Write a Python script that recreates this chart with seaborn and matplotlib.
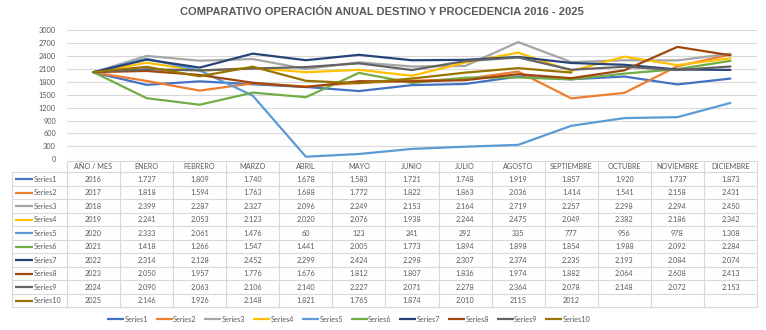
import numpy as np
import pandas as pd
import matplotlib
matplotlib.use("Agg")
import matplotlib.pyplot as plt
import seaborn as sns

# ---------------- data ----------------
categories = ["AÑO / MES", "ENERO", "FEBRERO", "MARZO", "ABRIL", "MAYO", "JUNIO",
              "JULIO", "AGOSTO", "SEPTIEMBRE", "OCTUBRE", "NOVIEMBRE", "DICIEMBRE"]
series_names = [f"Series{i}" for i in range(1, 11)]

series1 = [2016, 1727, 1809, 1740, 1678, 1583, 1721, 1748, 1919, 1857, 1920, 1737, 1873]
series2 = [2017, 1818, 1594, 1763, 1688, 1772, 1822, 1863, 2036, 1414, 1541, 2158, 2431]
series3 = [2018, 2399, 2287, 2327, 2096, 2249, 2153, 2164, 2719, 2257, 2298, 2294, 2450]
series4 = [2019, 2241, 2053, 2123, 2020, 2076, 1938, 2244, 2475, 2049, 2382, 2186, 2342]
series5 = [2020, 2333, 2061, 1476, 60, 123, 241, 292, 335, 777, 956, 978, 1308]
series6 = [2021, 1418, 1266, 1547, 1441, 2005, 1773, 1894, 1898, 1854, 1988, 2092, 2284]
series7 = [2022, 2314, 2128, 2452, 2299, 2424, 2298, 2307, 2374, 2235, 2193, 2084, 2074]
series8 = [2023, 2050, 1957, 1776, 1676, 1812, 1807, 1836, 1974, 1882, 2064, 2608, 2413]
series9 = [2024, 2090, 2063, 2106, 2140, 2227, 2071, 2278, 2364, 2078, 2148, 2072, 2153]
series10 = [2025, 2146, 1926, 2148, 1821, 1765, 1874, 2010, 2115, 2012, np.nan, np.nan, np.nan]
series_values = [series1, series2, series3, series4, series5,
                 series6, series7, series8, series9, series10]

# cells the source table shows without thousands separator (series index, column index)
plain_cells = {(9, 8), (9, 9)}

y_ticks = list(range(0, 3001, 300))
title = "COMPARATIVO OPERACIÓN ANUAL DESTINO Y PROCEDENCIA 2016 - 2025"

colors = ["#4472C4", "#ED7D31", "#A5A5A5", "#FFC000", "#5B9BD5",
          "#70AD47", "#264478", "#9E480E", "#636363", "#997300"]

# ---------------- style ----------------
sns.set_theme(style="white")
plt.rcParams['font.family'] = ['Lato', 'DejaVu Sans']
TXT = "#595959"
GRID = "#D9D9D9"

W, H = 766, 330
fig = plt.figure(figsize=(W / 100, H / 100), dpi=100)
fig.patch.set_facecolor("white")

x0, x1 = 67.0, 757.0
ytop, ybot = 30.0, 159.3
ax = fig.add_axes([x0 / W, 1 - ybot / H, (x1 - x0) / W, (ybot - ytop) / H])

rows = []
for name, vals in zip(series_names, series_values):
    for i, v in enumerate(vals):
        rows.append({"series": name, "pos": i, "value": v})
df = pd.DataFrame(rows).dropna()

sns.lineplot(data=df, x="pos", y="value", hue="series", hue_order=series_names,
             palette=colors, linewidth=1.6, ax=ax, legend=False, sort=False,
             solid_joinstyle="round", solid_capstyle="round")

ax.set_xlim(-0.5, len(categories) - 0.5)
ax.set_ylim(0, 3000)
ax.set_yticks(y_ticks)
ax.set_yticklabels([str(t) for t in y_ticks], fontsize=5.3, color=TXT)
ax.tick_params(axis="y", length=0, pad=8)
ax.set_xticks([])
ax.set_xlabel("")
ax.set_ylabel("")
for s in ax.spines.values():
    s.set_visible(False)
ax.yaxis.grid(True, color=GRID, linewidth=0.8)
ax.set_axisbelow(True)

fig.text(382 / W, 1 - 12 / H, title, ha="center", va="center",
         fontsize=8, fontweight="bold", color=TXT, family=["Liberation Sans", "DejaVu Sans"])

# ---------------- data table ----------------
tax = fig.add_axes([0, 0, 1, 1])
tax.set_xlim(0, W)
tax.set_ylim(H, 0)
tax.axis("off")

ncol = len(categories)
cw = (x1 - x0) / ncol
edges = [x0 + i * cw for i in range(ncol + 1)]
lab_left = 12.0
hdr_top, hdr_bot = 160.7, 172.3
rh = 13.5
row_edges = [hdr_bot + i * rh for i in range(len(series_names) + 1)]
tb_bot = row_edges[-1]

lw = 0.8
tax.plot([x0, x1], [hdr_top, hdr_top], color=GRID, lw=lw)
for y in row_edges:
    tax.plot([lab_left, x1], [y, y], color=GRID, lw=lw)
tax.plot([lab_left, lab_left], [hdr_bot, tb_bot], color=GRID, lw=lw)
for x in edges:
    tax.plot([x, x], [hdr_top, tb_bot], color=GRID, lw=lw)

fs = 5.2
for j, cat in enumerate(categories):
    tax.text(x0 + (j + 0.5) * cw, (hdr_top + hdr_bot) / 2, cat, ha="center", va="center",
             fontsize=fs, color=TXT)


def fmt(v, i, j):
    if v is None or (isinstance(v, float) and np.isnan(v)):
        return ""
    v = int(round(v))
    if j == 0 or (i, j) in plain_cells or v < 1000:
        return str(v)
    return f"{v:,}".replace(",", ".")


for i, (name, vals, c) in enumerate(zip(series_names, series_values, colors)):
    yc = row_edges[i] + rh / 2
    tax.plot([15, 33], [yc, yc], color=c, lw=1.6, solid_capstyle="butt")
    tax.text(34, yc, name, ha="left", va="center", fontsize=fs, color=TXT)
    for j, v in enumerate(vals):
        tax.text(x0 + (j + 0.5) * cw, yc, fmt(v, i, j), ha="center", va="center",
                 fontsize=fs, color=TXT)

# ---------------- bottom legend ----------------
leg_y = 319
for i, (name, c) in enumerate(zip(series_names, colors)):
    xs = 107 + i * 48.7
    tax.plot([xs, xs + 17], [leg_y, leg_y], color=c, lw=1.6, solid_capstyle="butt")
    tax.text(xs + 17.5, leg_y, name, ha="left", va="center", fontsize=fs, color=TXT)

fig.savefig("out.png", dpi=100, facecolor="white")
